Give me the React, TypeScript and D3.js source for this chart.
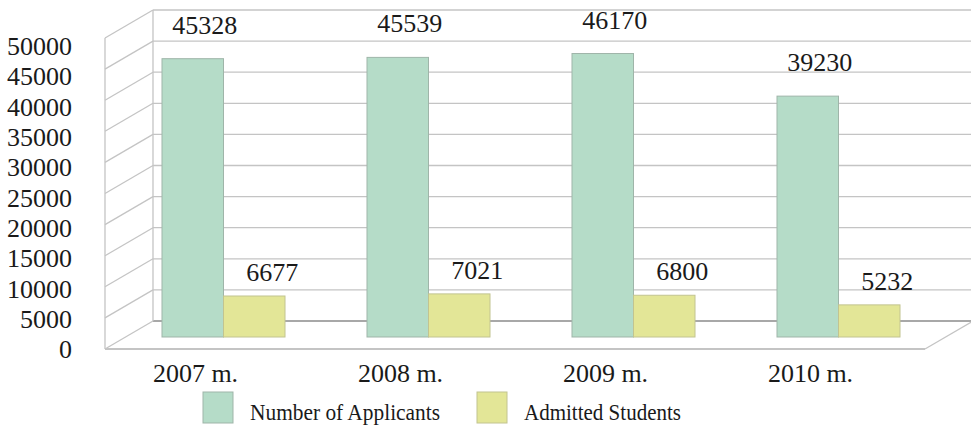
import React from "react";
import * as d3 from "d3";

const categories = ["2007 m.", "2008 m.", "2009 m.", "2010 m."];
const applicants = [45328, 45539, 46170, 39230];
const admitted = [6677, 7021, 6800, 5232];
const seriesNames = ["Number of Applicants", "Admitted Students"];
const yTicks = [0, 5000, 10000, 15000, 20000, 25000, 30000, 35000, 40000, 45000, 50000];

const W = 971;
const H = 439;
const FONT = "'Liberation Serif', 'Times New Roman', serif";
const GREEN = "#b5dcc8";
const YELLOW = "#e3e697";

export default function App() {
  const x0 = 105, x1 = 925, dx = 48, dy = 28;
  const yFront = d3.scaleLinear().domain([0, 50000]).range([349, 38]);
  const yLabel = d3.scaleLinear().domain([0, 50000]).range([349, 46]);
  const yBar = d3.scaleLinear().domain([0, 50000]).range([337, 30]);
  const xBar = d3.scaleBand<string>().domain(categories).range([121, 941]).paddingInner(0.4).paddingOuter(0.2);
  const xCat = d3.scaleBand<string>().domain(categories).range([93, 913]);
  const bw = xBar.bandwidth() / 2;
  const series = [
    { name: seriesNames[0], values: applicants, fill: GREEN, stroke: "#9fb5a9", lx: 12, ly: -25, tl: 190 },
    { name: seriesNames[1], values: admitted, fill: YELLOW, stroke: "#c2c490", ly: -15, lx: 18, tl: 157 },
  ];
  return (
    <svg width={W} height={H} style={{ position: "absolute", left: 0, top: 0, background: "#fff" }}>
      <g stroke="#c4c4c4" strokeWidth={1.3} fill="none">
        {yTicks.map((t) => (
          <g key={t}>
            <line x1={x0 + dx} x2={W + 5} y1={yFront(t) - dy} y2={yFront(t) - dy} stroke={t === 0 ? "#a8a8a8" : "#c4c4c4"} strokeWidth={t === 0 ? 2 : 1.3} />
            <line x1={x0} x2={x0 + dx} y1={yFront(t)} y2={yFront(t) - dy} />
          </g>
        ))}
        <line x1={x0} x2={x0} y1={yFront(0)} y2={yFront(50000)} />
        <line x1={x0 + dx} x2={x0 + dx} y1={yFront(0) - dy} y2={yFront(50000) - dy} />
        <line x1={x0} x2={x1} y1={yFront(0)} y2={yFront(0)} strokeWidth={1.8} />
        <line x1={x1} x2={x1 + dx} y1={yFront(0)} y2={yFront(0) - dy} />
      </g>
      {series.map((s, si) => (
        <g key={s.name}>
          {categories.map((c, i) => {
            const x = (xBar(c) as number) + si * bw;
            const v = s.values[i];
            return (
              <g key={c}>
                <rect x={x} y={yBar(v)} width={bw} height={yBar(0) - yBar(v)} fill={s.fill} stroke={s.stroke} strokeWidth={1} />
                <text x={x + bw / 2 + s.lx} y={yBar(v) + s.ly} textAnchor="middle" fontFamily={FONT} fontSize={26} fill="#1a1a1a">{v}</text>
              </g>
            );
          })}
        </g>
      ))}
      {yTicks.map((t) => (
        <text key={t} x={72} y={yLabel(t)} dy="0.35em" textAnchor="end" fontFamily={FONT} fontSize={26} fill="#1a1a1a">{t}</text>
      ))}
      {categories.map((c) => (
        <text key={c} x={(xCat(c) as number) + xCat.bandwidth() / 2} y={382} textAnchor="middle" fontFamily={FONT} fontSize={26} fill="#1a1a1a">{c}</text>
      ))}
      {series.map((s, i) => {
        const lx = [203, 477][i];
        return (
          <g key={s.name}>
            <rect x={lx} y={392} width={30} height={31} fill={s.fill} stroke={s.stroke} strokeWidth={1} />
            <text x={lx + 47} y={420} fontFamily={FONT} fontSize={23} textLength={s.tl} lengthAdjust="spacingAndGlyphs" fill="#1a1a1a">{s.name}</text>
          </g>
        );
      })}
    </svg>
  );
}
